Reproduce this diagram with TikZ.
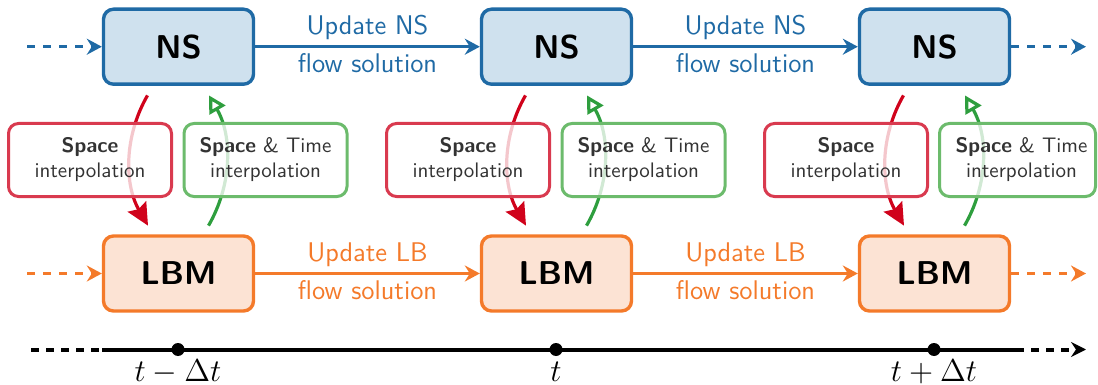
\RequirePackage{fix-cm}
\documentclass[tikz,border=0pt]{standalone}
\usepackage{fontspec}
\usetikzlibrary{arrows.meta,calc}
\definecolor{nsblue}{HTML}{1F6AA5}
\definecolor{nsfill}{HTML}{CFE1EE}
\definecolor{lbor}{HTML}{F47A2A}
\definecolor{lbfill}{HTML}{FCE3D4}
\definecolor{redarr}{HTML}{D0021B}
\definecolor{redbox}{HTML}{D93A4F}
\definecolor{greenarr}{HTML}{2E9E3E}
\definecolor{greenbox}{HTML}{6CBB6C}
\definecolor{txtgray}{HTML}{333333}
\begin{document}
\begin{tikzpicture}[x=0.5pt,y=-0.5pt,
  solverbox/.style={rounded corners=5pt, line width=1.7pt, minimum width=75pt, minimum height=37.5pt,
    font=\sffamily\bfseries\fontsize{16.5}{18}\selectfont},
  nsbox/.style={solverbox, draw=nsblue, fill=nsfill},
  lbbox/.style={solverbox, draw=lbor, fill=lbfill},
  interp/.style={rounded corners=5pt, line width=1.5pt, minimum width=81.5pt, minimum height=36.5pt,
    fill=white, fill opacity=0.78, text opacity=1, align=center, text=txtgray,
    font=\sffamily\fontsize{10.5}{12.5}\selectfont},
  spbox/.style={interp, draw=redbox},
  stbox/.style={interp, draw=greenbox},
  flowarr/.style={line width=1.5pt, -{Stealth[length=7.5pt,width=8pt,inset=2.5pt]}},
  dasharr/.style={flowarr, dash pattern=on 4pt off 4pt},
  flowlab/.style={font=\sffamily\fontsize{13.5}{15}\selectfont, anchor=base},
  toLB/.style={draw=redarr, line width=1.6pt, -{Stealth[length=11pt,width=10.5pt,inset=1.5pt]},
    shorten <=5.5pt, shorten >=5pt},
  toNS/.style={draw=greenarr, line width=1.6pt, -{Triangle[open,length=8.5pt,width=9pt]},
    shorten <=5pt, shorten >=5.5pt},
  timeline/.style={line width=2pt, draw=black},
  tldash/.style={timeline, dash pattern=on 4pt off 3.5pt},
  dot/.style={circle, fill=black, inner sep=0pt, minimum size=6.5pt},
  tlab/.style={anchor=base, font=\fontsize{15.8}{17}\selectfont}
]
\useasboundingbox (0,0) rectangle (1098,385);

% solver boxes
\foreach \i/\x in {1/178.5,2/556.5,3/934.5}{
  \node[nsbox] (ns\i) at (\x,46.7) {NS};
  \node[lbbox] (lb\i) at (\x,273.5) {LBM};
}

% flow arrows NS
\coordinate (nsin) at (27,46.7);
\coordinate (nsout) at (1086,46.7);
\draw[dasharr, nsblue] (nsin) -- (ns1);
\draw[flowarr, nsblue] (ns1) -- node[flowlab, midway, yshift=6pt, text=nsblue] {Update NS}
  node[flowlab, midway, yshift=-13pt, text=nsblue] {flow solution} (ns2);
\draw[flowarr, nsblue] (ns2) -- node[flowlab, midway, yshift=6pt, text=nsblue] {Update NS}
  node[flowlab, midway, yshift=-13pt, text=nsblue] {flow solution} (ns3);
\draw[dasharr, nsblue] (ns3) -- (nsout);

% flow arrows LBM
\coordinate (lbin) at (27,273.5);
\coordinate (lbout) at (1086,273.5);
\draw[dasharr, lbor] (lbin) -- (lb1);
\draw[flowarr, lbor] (lb1) -- node[flowlab, midway, yshift=6pt, text=lbor] {Update LB}
  node[flowlab, midway, yshift=-13pt, text=lbor] {flow solution} (lb2);
\draw[flowarr, lbor] (lb2) -- node[flowlab, midway, yshift=6pt, text=lbor] {Update LB}
  node[flowlab, midway, yshift=-13pt, text=lbor] {flow solution} (lb3);
\draw[dasharr, lbor] (lb3) -- (lbout);

% coupling arrows
\foreach \i in {1,2,3}{
  \draw[toLB] ([xshift=-12.75pt]ns\i.south) to[bend right=30] ([xshift=-12.75pt]lb\i.north);
  \draw[toNS] ([xshift=12.5pt]lb\i.north) to[bend right=30] ([xshift=12.5pt]ns\i.south);
}

% interpolation boxes
\node[spbox] (sp1) at (90,160) {\textbf{Space}\\interpolation};
\node[stbox] (st1) at (265.5,160) {\textbf{Space} \& Time\\interpolation};
\node[spbox] (sp2) at (468,160) {\textbf{Space}\\interpolation};
\node[stbox] (st2) at (643.5,160) {\textbf{Space} \& Time\\interpolation};
\node[spbox] (sp3) at (846,160) {\textbf{Space}\\interpolation};
\node[stbox, minimum width=78pt] (st3) at (1017.5,160) {};
\node[align=center, text=txtgray, font=\sffamily\fontsize{10.5}{12.5}\selectfont] (st3t) at (1021.5,160)
  {\textbf{Space} \& Time\\interpolation};

% timeline
\coordinate (tl0) at (31,349.5);
\coordinate (tl1) at (102,349.5);
\coordinate (tl2) at (1016,349.5);
\coordinate (tl3) at (1086,349.5);
\draw[tldash] (tl0) -- (tl1);
\draw[timeline] (tl1) -- (tl2);
\draw[tldash, -{Stealth[length=7.5pt,width=7.5pt,inset=2.5pt]}] (tl2) -- (tl3);
\node[dot] (d1) at (178,349.5) {};
\node[dot] (d2) at (556,349.5) {};
\node[dot] (d3) at (934,349.5) {};
\node[tlab] (l1) at (178,381) {$t-\Delta t$};
\node[tlab] (l2) at (556,381) {$t$};
\node[tlab] (l3) at (934,381) {$t+\Delta t$};
\end{tikzpicture}
\end{document}
